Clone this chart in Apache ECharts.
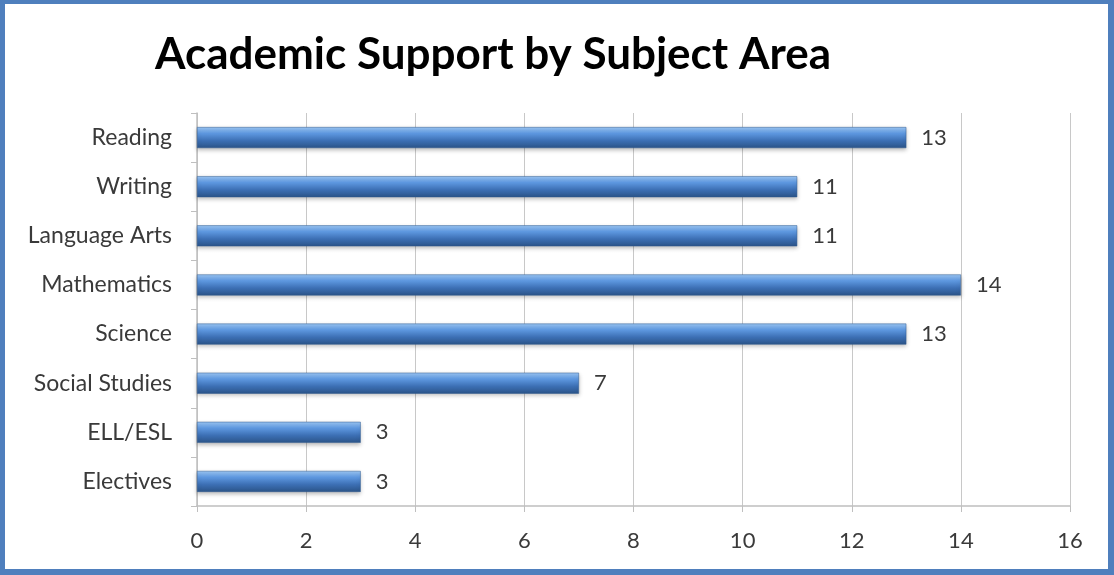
<!DOCTYPE html>
<html>
<head>
<meta charset="utf-8">
<script src="https://cdn.jsdelivr.net/npm/echarts@6/dist/echarts.min.js"></script>
<style>
  html, body { margin: 0; padding: 0; background: #fff; }
  #wrap { position: relative; width: 1114px; height: 575px; }
  #chart { position: absolute; left: 0; top: 0; width: 1114px; height: 575px; }
  #frame {
    position: absolute; left: 0; top: 0; width: 1114px; height: 575px;
    box-sizing: border-box; pointer-events: none;
    border-style: solid; border-color: #4f7fbd;
    border-width: 4px 6px 6px 5px;
  }
</style>
</head>
<body>
<div id="wrap">
  <div id="chart"></div>
  <div id="frame"></div>
</div>
<script>
// Subjects listed top to bottom
const subjects = ['Reading', 'Writing', 'Language Arts', 'Mathematics', 'Science', 'Social Studies', 'ELL/ESL', 'Electives'];
const counts = [13, 11, 11, 14, 13, 7, 3, 3];
const xTicks = [0, 2, 4, 6, 8, 10, 12, 14, 16];

const font = 'Lato, "Open Sans", "Liberation Sans", sans-serif';

const chart = echarts.init(document.getElementById('chart'), null, { renderer: 'canvas' });

chart.setOption({
  animation: false,
  backgroundColor: '#ffffff',
  title: {
    text: 'Academic Support by Subject Area',
    left: 488,
    textAlign: 'center',
    top: 28,
    textStyle: { fontFamily: font, fontWeight: 'bold', fontSize: 44, color: '#000000' }
  },
  grid: { left: 197, right: 44, top: 113, bottom: 69, containLabel: false },
  xAxis: {
    type: 'value',
    min: xTicks[0],
    max: xTicks[xTicks.length - 1],
    interval: 2,
    axisLine: { show: true, lineStyle: { color: '#bfbfbf', width: 1.5 } },
    axisTick: { show: true, length: 6, lineStyle: { color: '#bfbfbf' } },
    axisLabel: {
      margin: 24, fontFamily: font, fontSize: 22, color: '#3a3a3a',
      formatter: v => (xTicks.includes(v) ? String(v) : '')
    },
    splitLine: { show: true, lineStyle: { color: '#c8c8c8', width: 1 } }
  },
  yAxis: {
    type: 'category',
    inverse: true,
    data: subjects,
    axisLine: { show: true, lineStyle: { color: '#bfbfbf', width: 1.5 } },
    axisTick: { show: true, length: 6, lineStyle: { color: '#bfbfbf' } },
    axisLabel: { margin: 25, fontFamily: font, fontSize: 23, color: '#3a3a3a' }
  },
  series: [{
    type: 'bar',
    data: counts,
    barWidth: 21,
    itemStyle: {
      color: new echarts.graphic.LinearGradient(0, 0, 0, 1, [
        { offset: 0, color: '#9cc7f5' },
        { offset: 0.3, color: '#5e98e0' },
        { offset: 0.65, color: '#3c6fb4' },
        { offset: 1, color: '#2b5488' }
      ]),
      borderColor: '#2f5a91',
      borderWidth: 0.5,
      shadowColor: 'rgba(0,0,0,0.25)',
      shadowBlur: 4,
      shadowOffsetY: 2
    },
    label: {
      show: true,
      position: 'right',
      distance: 15,
      fontFamily: font,
      fontSize: 22,
      color: '#3a3a3a'
    }
  }]
});
</script>
</body>
</html>
